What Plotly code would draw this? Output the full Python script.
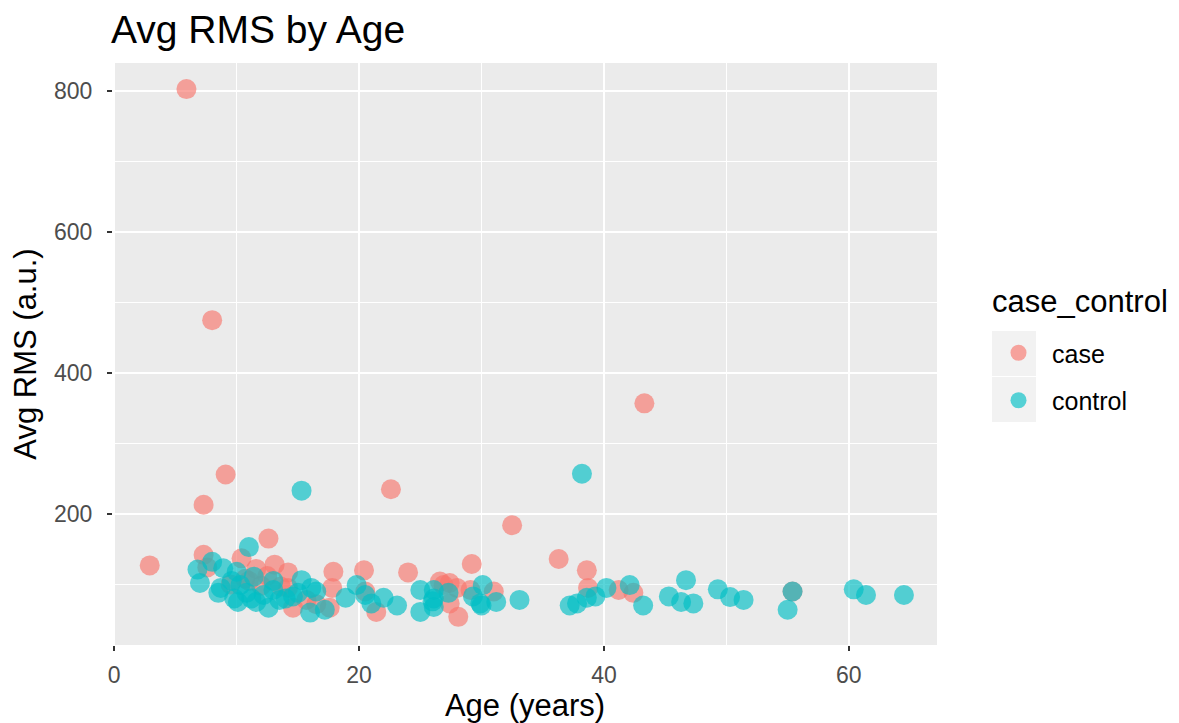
import plotly.graph_objects as go

case_age = [5.9, 8.0, 9.1, 7.3, 2.9, 7.3, 12.6, 22.6, 32.5, 43.3, 36.3, 38.6, 29.2, 24.0, 20.4,
            17.9, 10.4, 13.1, 11.6, 14.2, 17.8, 7.6, 14.6, 17.6, 15.7, 10.7, 12.5, 9.5, 13.6, 14.2,
            11.0, 26.6, 27.4, 26.9, 28.0, 31.0, 29.1, 20.5, 21.4, 27.4, 28.1, 38.7, 41.2, 42.4,
            55.4, 16.5, 12.0]
case_rms = [803, 475, 256, 213, 127, 142, 165, 235, 184, 357, 136, 120, 129, 117, 120,
            118, 137, 128, 122, 117, 95, 124, 67, 67, 78, 108, 112, 100, 97, 95,
            105, 104, 102, 99, 95, 90, 92, 90, 61, 73, 54, 95, 92, 88,
            90, 72, 98]

control_age = [11.0, 15.3, 38.2, 6.8, 7.0, 8.0, 8.7, 8.9, 10.0, 8.5, 10.1, 10.8, 11.4, 11.6, 12.6,
               13.0, 13.5, 15.3, 16.1, 16.0, 17.2, 18.9, 19.8, 14.6, 10.3, 9.6, 12.2, 14.0, 9.8,
               11.2, 13.0, 15.0, 16.5, 21.0, 22.0, 23.1, 25.0, 25.0, 26.1, 26.1, 26.1, 27.3, 29.3,
               30.1, 29.9, 30.0, 31.2, 33.1, 37.2, 37.8, 38.6, 39.3, 40.2, 42.1, 43.2, 45.3, 46.7,
               46.3, 47.3, 49.3, 50.3, 51.4, 55.4, 55.0, 60.4, 61.4, 64.5, 26.0, 20.5]
control_rms = [153, 233, 257, 121, 102, 132, 95, 123, 118, 88, 75, 88, 111, 75, 67,
               92, 78, 106, 95, 60, 64, 81, 99, 83, 99, 105, 85, 80, 80,
               80, 105, 88, 90, 73, 81, 70, 92, 61, 92, 68, 80, 88, 83,
               99, 73, 70, 75, 78, 70, 73, 81, 83, 95, 99, 70, 83, 106,
               75, 73, 93, 82, 78, 90, 64, 93, 85, 85, 76, 85]

x_ticks = [0, 20, 40, 60]
y_ticks = [200, 400, 600, 800]

RED = "#F8766D"
TEAL = "#00BFC4"
FONT = "Liberation Sans, Arial, sans-serif"

OFF = 8  # page body margin
W, H = 1179, 723 - OFF
ML, MT = 113 - OFF, 63 - OFF
MR = (W + OFF) - 937
MB = 723 - 645
PW = W - ML - MR
PH = H - MT - MB


def px_x(page_x):
    return (page_x - OFF - ML) / PW


def px_y(page_y):
    return (H - MB - (page_y - OFF)) / PH


fig = go.Figure()
fig.add_trace(go.Scatter(x=case_age, y=case_rms, mode="markers", name="case",
                         marker=dict(color=RED, size=20, opacity=0.65, line=dict(width=0)),
                         legendgroup="a"))
fig.add_trace(go.Scatter(x=control_age, y=control_rms, mode="markers", name="control",
                         marker=dict(color=TEAL, size=20, opacity=0.65, line=dict(width=0)),
                         legendgroup="b"))

axis_common = dict(showline=False, zeroline=False, ticks="outside", ticklen=5, tickwidth=1.5,
                   tickcolor="#333333", gridcolor="white", gridwidth=1.6, automargin=False,
                   tickfont=dict(family=FONT, size=23, color="#4D4D4D"),
                   minor=dict(showgrid=True, gridcolor="white", gridwidth=0.8, ticks=""))

# legend key backgrounds (grey95 boxes)
shapes = []
for top, bot in [(331, 376), (377, 422)]:
    shapes.append(dict(type="rect", xref="paper", yref="paper",
                       x0=px_x(992), x1=px_x(1036), y0=px_y(bot), y1=px_y(top),
                       fillcolor="#F2F2F2", line=dict(width=0), layer="below"))

fig.update_layout(
    width=W, height=H,
    paper_bgcolor="white", plot_bgcolor="#EBEBEB",
    margin=dict(l=ML, r=MR, t=MT, b=MB, autoexpand=False),
    title=dict(text="Avg RMS by Age", x=(111 - OFF) / W, xanchor="left",
               y=1 - (29 - OFF) / H, yanchor="middle",
               font=dict(family=FONT, size=39, color="black")),
    xaxis=dict(range=[-0.1, 67.2], tickvals=x_ticks, ticklabelstandoff=4,
               title=dict(text="Age (years)", standoff=6,
                          font=dict(family=FONT, size=31, color="black")),
               **axis_common),
    yaxis=dict(range=[14, 840], tickvals=y_ticks, ticklabelstandoff=10,
               title=dict(text="Avg RMS (a.u.)", standoff=16,
                          font=dict(family=FONT, size=31, color="black")),
               **axis_common),
    legend=dict(x=px_x(985), y=px_y(330), xanchor="left", yanchor="top",
                bgcolor="rgba(0,0,0,0)",
                font=dict(family=FONT, size=25, color="black"),
                tracegroupgap=12, itemwidth=57),
    annotations=[dict(text="case_control", xref="paper", yref="paper",
                      x=px_x(990), y=px_y(301), xanchor="left", yanchor="middle",
                      showarrow=False, font=dict(family=FONT, size=31, color="black"))],
    shapes=shapes,
    showlegend=True,
)
fig.update_xaxes(minor=dict(tickvals=[10, 30, 50]))
fig.update_yaxes(minor=dict(tickvals=[100, 300, 500, 700]))

fig.write_html("out.html")
